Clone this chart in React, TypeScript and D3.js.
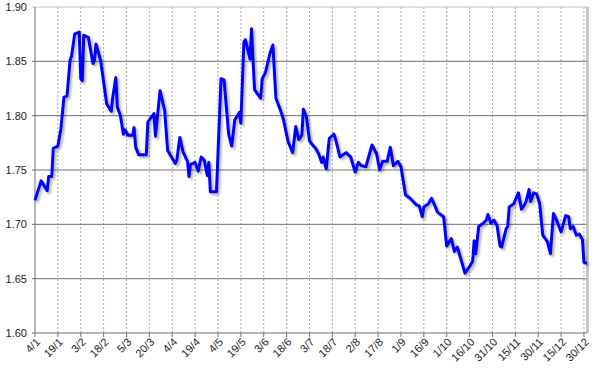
import React, { useEffect, useRef } from "react";
import * as d3 from "d3";

// days counted from 4/1
const days = [
  0, 4, 8, 9, 11, 12, 15, 17, 19, 21, 23, 24, 26, 29, 30, 31, 32, 35, 38, 39,
  40, 43, 47, 50, 51, 53, 54, 56, 58, 59, 61, 64, 65, 66, 68, 73, 74, 78, 79, 82,
  85, 87, 92, 93, 95, 97, 100, 101, 102, 105, 107, 109, 111, 113, 114, 115, 119, 122, 124, 127,
  129, 131, 134, 135, 137, 138, 141, 142, 143, 144, 148, 149, 151, 154, 156, 158, 161, 163, 166, 169,
  171, 173, 175, 176, 178, 180, 182, 184, 186, 188, 189, 191, 193, 196, 197, 200, 204, 207, 210, 212,
  214, 217, 221, 224, 226, 228, 231, 233, 235, 238, 240, 243, 246, 248, 250, 252, 254, 255, 258, 260,
  262, 264, 268, 270, 273, 275, 277, 282, 285, 287, 288, 289, 291, 294, 296, 297, 299, 301, 303, 305,
  306, 309, 310, 311, 314, 317, 319, 321, 322, 324, 325, 327, 329, 331, 332, 333, 336, 338, 340, 342,
  345, 348, 350, 351, 353, 355, 357, 359, 360, 362,
];
const values = [
  1.722, 1.74, 1.731, 1.744, 1.744, 1.77, 1.772, 1.788, 1.817, 1.818, 1.851, 1.855, 1.875, 1.877, 1.834, 1.832, 1.874, 1.872, 1.848, 1.851,
  1.866, 1.851, 1.811, 1.804, 1.817, 1.835, 1.808, 1.8, 1.783, 1.787, 1.782, 1.782, 1.789, 1.771, 1.764, 1.764, 1.794, 1.802, 1.781, 1.823,
  1.805, 1.768, 1.756, 1.759, 1.78, 1.767, 1.758, 1.744, 1.755, 1.757, 1.749, 1.762, 1.759, 1.745, 1.757, 1.73, 1.73, 1.834, 1.833, 1.783,
  1.772, 1.796, 1.803, 1.793, 1.868, 1.87, 1.852, 1.88, 1.851, 1.824, 1.816, 1.834, 1.839, 1.857, 1.865, 1.816, 1.805, 1.796, 1.776, 1.766,
  1.79, 1.778, 1.782, 1.806, 1.799, 1.777, 1.773, 1.77, 1.765, 1.757, 1.762, 1.751, 1.779, 1.783, 1.779, 1.762, 1.766, 1.762, 1.748, 1.757,
  1.754, 1.753, 1.773, 1.765, 1.75, 1.758, 1.758, 1.771, 1.754, 1.758, 1.753, 1.727, 1.724, 1.721, 1.718, 1.717, 1.707, 1.716, 1.719, 1.724,
  1.718, 1.711, 1.707, 1.68, 1.687, 1.675, 1.679, 1.655, 1.661, 1.666, 1.685, 1.673, 1.698, 1.701, 1.704, 1.709, 1.701, 1.704, 1.699, 1.68,
  1.679, 1.696, 1.698, 1.716, 1.719, 1.729, 1.714, 1.718, 1.721, 1.732, 1.721, 1.729, 1.728, 1.719, 1.704, 1.69, 1.684, 1.673, 1.71, 1.704,
  1.693, 1.708, 1.707, 1.696, 1.698, 1.69, 1.691, 1.686, 1.665, 1.664,
];

const tickDays = [0, 15, 30, 45, 60, 75, 90, 105, 120, 135, 150, 165, 180, 195, 210, 225, 240, 255, 270, 285, 300, 315, 330, 345, 360];
const tickLabels = [
  "4/1", "19/1", "3/2", "18/2", "5/3", "20/3", "4/4", "19/4", "4/5", "19/5", "3/6", "18/6", "3/7",
  "18/7", "2/8", "17/8", "1/9", "16/9", "1/10", "16/10", "31/10", "15/11", "30/11", "15/12", "30/12",
];
const yTicks = [1.6, 1.65, 1.7, 1.75, 1.8, 1.85, 1.9];

const App = () => {
  const svgRef = useRef<SVGSVGElement>(null);

  useEffect(() => {
    document.body.style.margin = "0";
    const svg = d3.select(svgRef.current);
    svg.selectAll("*").remove();

    const width = 600;
    const height = 373;
    const margin = { top: 7, right: 13, bottom: 40, left: 35 };
    const font = "'Liberation Sans', Arial, sans-serif";

    const x = d3.scaleLinear().domain([0, 362]).range([margin.left, width - margin.right]);
    const y = d3.scaleLinear().domain([1.6, 1.9]).range([height - margin.bottom, margin.top]);

    // 阴影
    const defs = svg.append("defs");
    defs.append("filter")
      .attr("id", "shadow")
      .attr("x", "-5%").attr("y", "-5%").attr("width", "110%").attr("height", "110%")
      .append("feDropShadow")
      .attr("dx", 2).attr("dy", 2).attr("stdDeviation", 1)
      .attr("flood-color", "#000").attr("flood-opacity", 0.3);

    // 垂直虚线
    svg.selectAll(".vgrid")
      .data(tickDays.slice(1))
      .enter()
      .append("line")
      .attr("x1", (d) => x(d)).attr("x2", (d) => x(d))
      .attr("y1", y(1.9)).attr("y2", y(1.6))
      .attr("stroke", "#a8a8a8")
      .attr("stroke-dasharray", "2,2");

    // 水平网格
    svg.selectAll(".hgrid")
      .data(yTicks.slice(1, -1))
      .enter()
      .append("line")
      .attr("x1", margin.left - 3).attr("x2", x(362))
      .attr("y1", (d) => y(d)).attr("y2", (d) => y(d))
      .attr("stroke", "#707070");

    // 顶部边框
    svg.append("line")
      .attr("x1", margin.left - 3).attr("x2", x(362))
      .attr("y1", y(1.9)).attr("y2", y(1.9))
      .attr("stroke", "#c4c4c4");

    // 右边框
    svg.append("line")
      .attr("x1", x(362) + 0.5).attr("x2", x(362) + 0.5)
      .attr("y1", y(1.9)).attr("y2", y(1.6))
      .attr("stroke", "#bdbdbd")
      .attr("stroke-width", 2.5);

    // 纵坐标轴
    svg.append("line")
      .attr("x1", margin.left).attr("x2", margin.left)
      .attr("y1", y(1.9)).attr("y2", y(1.6))
      .attr("stroke", "#707070");
    svg.selectAll(".ylabel")
      .data(yTicks)
      .enter()
      .append("text")
      .attr("x", 27)
      .attr("y", (d) => y(d))
      .attr("dy", "0.35em")
      .attr("text-anchor", "end")
      .attr("font-family", font)
      .attr("font-size", 11)
      .attr("fill", "#222")
      .text((d) => d.toFixed(2));

    // 横坐标轴
    svg.append("line")
      .attr("x1", margin.left - 3).attr("x2", x(362))
      .attr("y1", y(1.6)).attr("y2", y(1.6))
      .attr("stroke", "#707070");
    svg.selectAll(".xtick")
      .data(tickDays)
      .enter()
      .append("line")
      .attr("x1", (d) => x(d)).attr("x2", (d) => x(d))
      .attr("y1", y(1.6)).attr("y2", y(1.6) + 4)
      .attr("stroke", "#707070");
    svg.selectAll(".xlabel")
      .data(tickDays)
      .enter()
      .append("text")
      .attr("transform", (d) => `translate(${x(d) + 3},${y(1.6) + 7}) rotate(-45)`)
      .attr("dy", "0.35em")
      .attr("text-anchor", "end")
      .attr("font-family", font)
      .attr("font-size", 11)
      .attr("fill", "#222")
      .text((d, i) => tickLabels[i]);

    // 折线
    const line = d3
      .line<number>()
      .x((d, i) => x(days[i]))
      .y((d) => y(d));
    svg.append("path")
      .datum(values)
      .attr("fill", "none")
      .attr("stroke", "#0000ff")
      .attr("stroke-width", 3)
      .attr("stroke-linejoin", "round")
      .attr("filter", "url(#shadow)")
      .attr("d", line);
  }, []);

  return <svg ref={svgRef} width={600} height={373} style={{ display: "block" }} />;
};

export default App;
